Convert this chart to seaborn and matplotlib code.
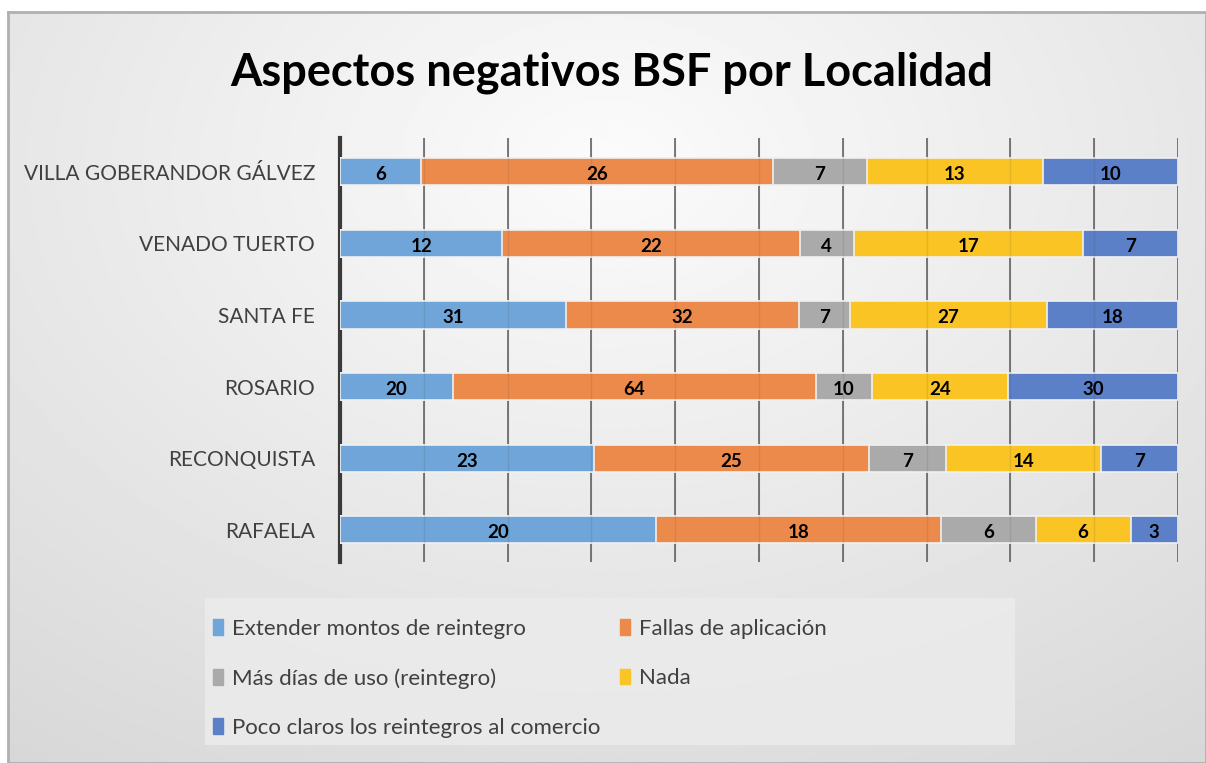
import numpy as np
import pandas as pd
import matplotlib
matplotlib.use("Agg")
import matplotlib.pyplot as plt
import matplotlib.patches as mpatches
import seaborn as sns

localidades = ["VILLA GOBERANDOR GÁLVEZ", "VENADO TUERTO", "SANTA FE",
               "ROSARIO", "RECONQUISTA", "RAFAELA"]
extender = [6, 12, 31, 20, 23, 20]
fallas = [26, 22, 32, 64, 25, 18]
mas_dias = [7, 4, 7, 10, 7, 6]
nada = [13, 17, 27, 24, 14, 6]
poco_claros = [10, 7, 18, 30, 7, 3]
categorias = ["Extender montos de reintegro", "Fallas de aplicación",
              "Más días de uso (reintegro)", "Nada",
              "Poco claros los reintegros al comercio"]
colores = ["#6fa5d8", "#ec8a4b", "#aaaaaa", "#f9c424", "#5b80c8"]

sns.set_theme(style="white")
plt.rcParams["font.family"] = ["Lato", "DejaVu Sans"]

df = pd.DataFrame({"Localidad": localidades})
for nombre, vals in zip(categorias, [extender, fallas, mas_dias, nada, poco_claros]):
    df[nombre] = vals
tot = df[categorias].sum(axis=1)
pct = df[categorias].div(tot, axis=0) * 100
cum = pct.cumsum(axis=1)

fig = plt.figure(figsize=(12.06, 7.63), dpi=100)
fig.patch.set_facecolor("white")

# fondo con degradado
bg = fig.add_axes([8 / 1206, 0, 1 - 8 / 1206, (763 - 12) / 763])
yy, xx = np.mgrid[-1:1:300j, -1:1:400j]
r = np.sqrt((xx * 0.9) ** 2 + ((yy + 0.6) * 0.8) ** 2)
grad = np.clip(0.985 - 0.09 * r, 0.84, 0.99)
bg.imshow(grad, cmap="gray", vmin=0, vmax=1, aspect="auto", extent=[0, 1, 0, 1])
bg.set_xticks([])
bg.set_yticks([])
for s in bg.spines.values():
    s.set_color("#b0b0b0")
    s.set_linewidth(2)

ax = fig.add_axes([340 / 1206, 201 / 763, 838 / 1206, 424 / 763])
ax.set_facecolor("none")

for i in range(len(categorias) - 1, -1, -1):
    sns.barplot(x=cum[categorias[i]].values, y=df["Localidad"], color=colores[i],
                orient="h", width=0.38, edgecolor="#f0f0f0", linewidth=1.2,
                saturation=1, ax=ax, zorder=3)

for i, c in enumerate(categorias):
    mids = cum[c] - pct[c] / 2
    for j in range(len(localidades)):
        ax.text(mids[j], j + 0.04, str(df[c][j]), ha="center", va="center",
                fontsize=13.5, fontweight="bold", color="black", zorder=5)

ax.set_xlim(0, 100)
ax.set_ylim(5.45, -0.47)
ax.set_xticks(np.arange(0, 101, 10))
ax.xaxis.grid(True, color="#5a5a5a", linewidth=1.1, zorder=0)
ax.vlines(np.arange(10, 101, 10), -0.47, 5.45, color="#404040", linewidth=1,
          alpha=0.12, zorder=4)
ax.set_xticklabels([])
ax.tick_params(axis="x", length=0)
ax.tick_params(axis="y", length=0, pad=18, labelsize=15, labelcolor="#404040")
ax.set_xlabel("")
ax.set_ylabel("")
for s in ["top", "right", "bottom"]:
    ax.spines[s].set_visible(False)
ax.spines["left"].set_color("#3a3a3a")
ax.spines["left"].set_linewidth(3)

fig.text(0.507, 0.905, "Aspectos negativos BSF por Localidad", ha="center",
         va="center", fontsize=32.5, fontweight="bold", color="black")

# caja de la leyenda
fig.patches.append(mpatches.Rectangle((205 / 1206, 1 - 745 / 763), 810 / 1206, 147 / 763,
                                      transform=fig.transFigure, facecolor="#ebebeb",
                                      edgecolor="none", alpha=0.9, zorder=1))

handles = [mpatches.Patch(color=c, label=l) for c, l in zip(colores, categorias)]
orden = [0, 2, 4, 1, 3]
leg = fig.legend([handles[k] for k in orden], [categorias[k] for k in orden],
                 ncol=2, loc="upper left", bbox_to_anchor=(195 / 1206, 1 - 601 / 763),
                 frameon=False, fontsize=16, handlelength=0.45, handleheight=0.7,
                 handletextpad=0.4, columnspacing=0.9, labelspacing=1.32,
                 borderpad=0.3, labelcolor="#404040")

fig.savefig("out.png", dpi=100)
